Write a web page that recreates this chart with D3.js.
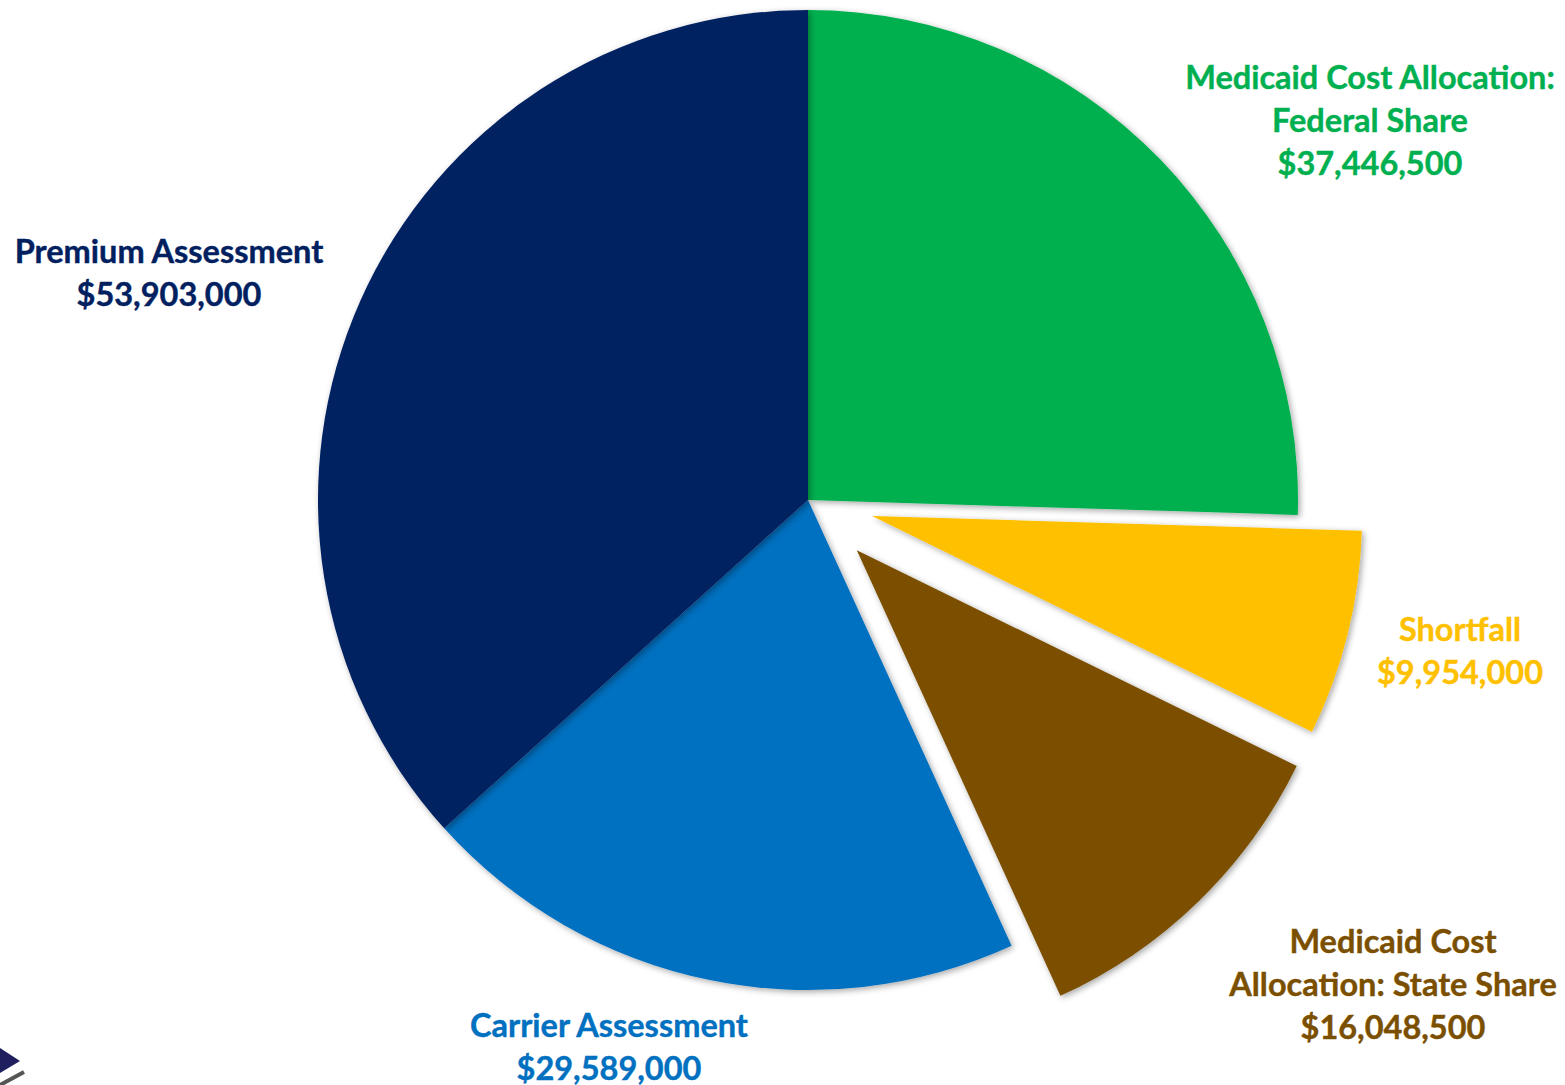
<!DOCTYPE html>
<html>
<head>
<meta charset="utf-8">
<script src="https://cdn.jsdelivr.net/npm/d3@7"></script>
<style>
  html, body { margin: 0; padding: 0; background: #fff; }
  svg { display: block; }
  text { font-family: Lato, "Open Sans", sans-serif; font-weight: 700; }
</style>
</head>
<body>
<svg id="chart" width="1565" height="1085"></svg>
<script>
// ---- data ----
const categories = [
  "Medicaid Cost Allocation: Federal Share",
  "Shortfall",
  "Medicaid Cost Allocation: State Share",
  "Carrier Assessment",
  "Premium Assessment"
];
const values = [37446500, 9954000, 16048500, 29589000, 53903000];
const labelLines = [
  ["Medicaid Cost Allocation:", "Federal Share"],
  ["Shortfall"],
  ["Medicaid Cost", "Allocation: State Share"],
  ["Carrier Assessment"],
  ["Premium Assessment"]
];
const colors = ["#00B050", "#FFC000", "#7B4F00", "#0070C0", "#002060"];

// ---- layout / style ----
const cx = 808, cy = 500, R = 490;
const explode = { "Shortfall": 66, "Medicaid Cost Allocation: State Share": 70 };
const labelPos = {
  "Medicaid Cost Allocation: Federal Share": [1370, 78],
  "Shortfall": [1460, 630],
  "Medicaid Cost Allocation: State Share": [1393, 942],
  "Carrier Assessment": [609, 1026],
  "Premium Assessment": [169, 252]
};
const lineH = 43;
const fmt = d3.format("$,");

const svg = d3.select("#chart");
const defs = svg.append("defs");
const f = defs.append("filter").attr("id", "shadow")
  .attr("x", "-10%").attr("y", "-10%").attr("width", "120%").attr("height", "120%");
f.append("feDropShadow").attr("dx", 2).attr("dy", 2).attr("stdDeviation", 3)
  .attr("flood-color", "#000").attr("flood-opacity", 0.35);

const data = categories.map((c, i) => ({ name: c, value: values[i], color: colors[i], lines: labelLines[i] }));
const pie = d3.pie().sort(null).value(d => d.value).startAngle(0).endAngle(2 * Math.PI);
const arc = d3.arc().innerRadius(0).outerRadius(R);
const arcs = pie(data);

const g = svg.append("g").attr("transform", `translate(${cx},${cy})`);
g.selectAll("path.slice").data(arcs).join("path")
  .attr("class", "slice")
  .attr("d", arc)
  .attr("fill", d => d.data.color)
  .attr("filter", "url(#shadow)")
  .attr("transform", d => {
    const off = explode[d.data.name] || 0;
    const a = (d.startAngle + d.endAngle) / 2;
    return `translate(${off * Math.sin(a)},${-off * Math.cos(a)})`;
  });

// labels
arcs.forEach(d => {
  const [x, y] = labelPos[d.data.name];
  const lines = d.data.lines.concat([fmt(d.data.value)]);
  const t = svg.append("text")
    .attr("text-anchor", "middle")
    .attr("fill", d.data.color)
    .attr("font-size", 32.5)
    .attr("stroke", d.data.color)
    .attr("stroke-width", 0.4);
  lines.forEach((ln, i) => {
    t.append("tspan").attr("x", x).attr("y", y + i * lineH).attr("dy", "0.35em").text(ln);
  });
});

// corner logo fragment
const logo = svg.append("g");
logo.append("path").attr("d", "M0,1048 L20,1061 L0,1073 Z").attr("fill", "#1F1F5F");
logo.append("line").attr("x1", 0).attr("y1", 1085).attr("x2", 24).attr("y2", 1072)
  .attr("stroke-width", 4).attr("stroke", "#555555");
</script>
</body>
</html>
